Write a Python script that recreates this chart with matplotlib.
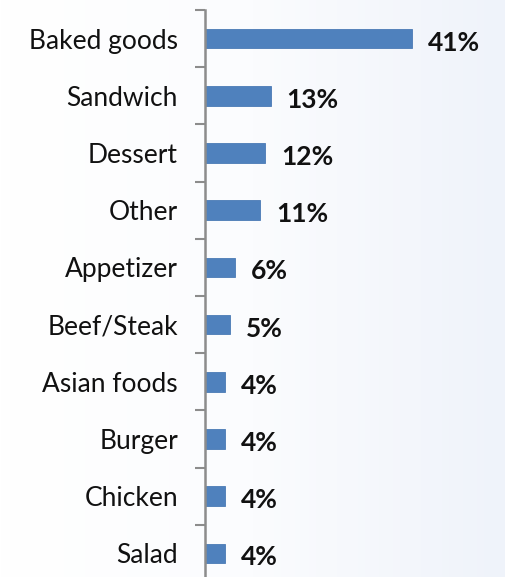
import numpy as np
import matplotlib
matplotlib.use("Agg")
from matplotlib import pyplot as plt
from matplotlib.colors import LinearSegmentedColormap

categories = ["Baked goods", "Sandwich", "Dessert", "Other", "Appetizer",
              "Beef/Steak", "Asian foods", "Burger", "Chicken", "Salad"]
shares = [41, 13, 12, 11, 6, 5, 4, 4, 4, 4]

plt.rcParams['font.family'] = ['Lato', 'DejaVu Sans']

fig = plt.figure(figsize=(5.06, 5.77), dpi=100)

# soft white-to-pale-blue backdrop
bg = fig.add_axes([0, 0, 1, 1], zorder=-1)
cmap = LinearSegmentedColormap.from_list('bg', ['#ffffff', '#fbfcfe', '#eff3fa'])
bg.imshow(np.linspace(0, 1, 256)[None, :], aspect='auto', cmap=cmap,
          extent=[0, 1, 0, 1])
bg.axis('off')

ax = fig.add_axes([205 / 506, 1 - 582 / 577, 252 / 506, 572 / 577])
ax.patch.set_alpha(0)

y = np.arange(len(categories))
ax.barh(y, shares, height=0.34, color='#4f81bd', edgecolor='#4a7ab5',
        linewidth=0.6)

for yi, v in zip(y, shares):
    ax.annotate(f'{v}%', (v, yi), xytext=(16, -4), textcoords='offset pixels',
                va='center', ha='left', fontsize=19, fontweight='bold',
                color='#111111')

ax.set_xlim(0, 50)
ax.set_ylim(len(categories) - 0.5, -0.5)

ax.set_yticks(y)
ax.set_yticklabels(categories, fontsize=19, color='#111111')
ax.set_yticks(np.arange(len(categories) + 1) - 0.5, minor=True)
ax.tick_params(axis='y', which='major', length=0, pad=19.5)
ax.tick_params(axis='y', which='minor', length=7, width=1.5, color='#8c8c8c')
ax.set_xticks([])

for side in ['top', 'right', 'bottom']:
    ax.spines[side].set_visible(False)
ax.spines['left'].set_color('#8c8c8c')
ax.spines['left'].set_linewidth(1.8)

fig.savefig('out.png', dpi=100)
